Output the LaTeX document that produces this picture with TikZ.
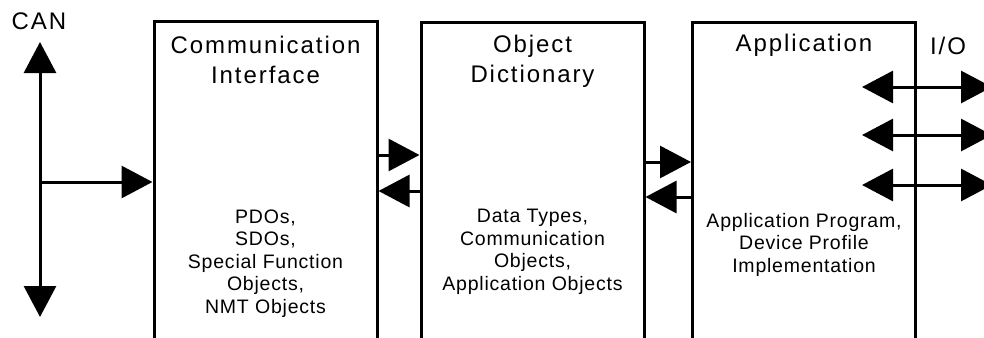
\documentclass[tikz,border=0pt]{standalone}
\usepackage{fontspec}
\setmainfont{Liberation Sans}
\newfontfamily\ttlfont[LetterSpace=8]{Liberation Sans}
\newfontfamily\bdyfont[LetterSpace=4]{Liberation Sans}
\usetikzlibrary{arrows.meta}
\begin{document}
\begin{tikzpicture}[x=1pt,y=-1pt,
  blk/.style={draw, line width=3pt, minimum width=223pt, minimum height=330pt, inner sep=0pt},
  ttl/.style={font=\ttlfont\fontsize{24}{30}\selectfont, align=center, anchor=base, inner sep=0pt},
  bdy/.style={font=\bdyfont\fontsize{19.5}{22.4}\selectfont, align=center, anchor=base, inner sep=0pt},
  conn/.style={line width=3pt, >={Triangle[length=31pt,width=32pt]}},
]
\useasboundingbox (0,0) rectangle (984,337);
\clip (0,0) rectangle (984,337);

% blocks (open at the bottom edge of the picture)
\node[blk] (ci) at (265.5,187) {};
\node[blk] (od) at (532.5,188) {};
\node[blk] (ap) at (804,188) {};

% titles (anchor = baseline of the last line)
\node[ttl] (cit) at (265.5,83) {Communication\\Interface};
\node[ttl] (odt) at (532.5,82) {Object\\Dictionary};
\node[ttl] (apt) at (804,52) {Application};
\node[ttl] (can) at (39,30) {CAN};
\node[ttl] (io) at (948,55) {I/O};

% contents (anchor = baseline of the last line)
\node[bdy] (cib) at (265.5,313) {PDOs,\\SDOs,\\Special Function\\Objects,\\NMT Objects};
\node[bdy] (odb) at (532.5,290) {Data Types,\\Communication\\Objects,\\Application Objects};
\node[bdy] (apb) at (804,272) {Application Program,\\Device Profile\\Implementation};

% CAN bus
\coordinate (cantop) at (40,42);
\coordinate (canbot) at (40,317);
\coordinate (canjn) at (40,182);
\draw[conn,<->] (cantop) -- (canbot);
\draw[conn,->] (canjn) -- (ci.west |- canjn);

% block connections
\draw[conn,->] (ci.east |- 0,155) -- (od.west |- 0,155);
\draw[conn,->] (od.west |- 0,191) -- (ci.east |- 0,191);
\draw[conn,->] (od.east |- 0,162) -- (ap.west |- 0,162);
\draw[conn,->] (ap.west |- 0,197) -- (od.east |- 0,197);

% I/O lines
\coordinate (io1l) at (862,87);  \coordinate (io1r) at (992,87);
\coordinate (io2l) at (862,135); \coordinate (io2r) at (992,135);
\coordinate (io3l) at (862,185); \coordinate (io3r) at (992,185);
\draw[conn,<->] (io1l) -- (io1r);
\draw[conn,<->] (io2l) -- (io2r);
\draw[conn,<->] (io3l) -- (io3r);
\end{tikzpicture}
\end{document}
